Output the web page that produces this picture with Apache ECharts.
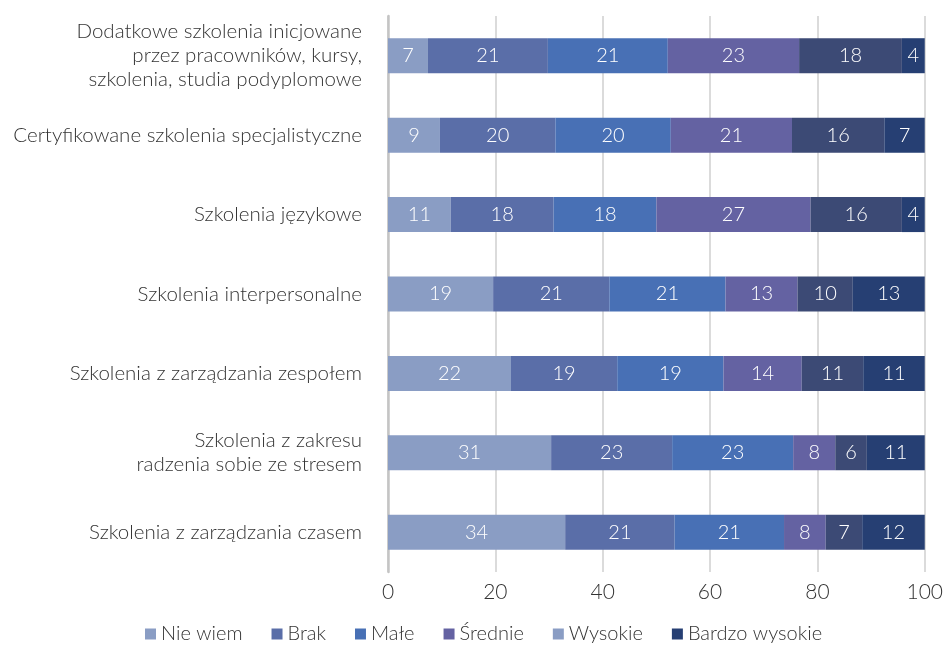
<!DOCTYPE html>
<html>
<head>
<meta charset="utf-8">
<script src="https://cdn.jsdelivr.net/npm/echarts@6/dist/echarts.min.js"></script>
<style>
  html, body { margin: 0; padding: 0; background: #fff; }
  #chart { width: 946px; height: 646px; }
</style>
</head>
<body>
<div id="chart"></div>
<script>
  // kategorie (od góry do dołu)
  const categories = [
    'Dodatkowe szkolenia inicjowane\nprzez pracowników, kursy,\nszkolenia, studia podyplomowe',
    'Certyfikowane szkolenia specjalistyczne',
    'Szkolenia językowe',
    'Szkolenia interpersonalne',
    'Szkolenia z zarządzania zespołem',
    'Szkolenia z zakresu\nradzenia sobie ze stresem',
    'Szkolenia z zarządzania czasem'
  ];
  const seriesNames = ['Nie wiem', 'Brak', 'Małe', 'Średnie', 'Wysokie', 'Bardzo wysokie'];
  const nieWiem = [7, 9, 11, 19, 22, 31, 34];
  const brak = [21, 20, 18, 21, 19, 23, 21];
  const male = [21, 20, 18, 21, 19, 23, 21];
  const srednie = [23, 21, 27, 13, 14, 8, 8];
  const wysokie = [18, 16, 16, 10, 11, 6, 7];
  const bardzoWysokie = [4, 7, 4, 13, 11, 11, 12];
  const xTicks = [0, 20, 40, 60, 80, 100];

  const colors = ['#8a9dc4', '#5a6ea8', '#4870b5', '#6462a2', '#3c4a75', '#263f73'];
  // w oryginalnej legendzie "Wysokie" ma jasny kwadracik
  const legendColors = ['#8a9dc4', '#5a6ea8', '#4870b5', '#6462a2', '#8a9dc4', '#263f73'];
  const raw = [nieWiem, brak, male, srednie, wysokie, bardzoWysokie];
  const font = 'Lato';

  // wykres 100% – szerokości normalizowane do sumy w wierszu
  const totals = categories.map((c, i) => raw.reduce((s, arr) => s + arr[i], 0));

  const series = seriesNames.map((name, k) => ({
    name: name,
    type: 'bar',
    stack: 'total',
    barWidth: 35,
    itemStyle: { color: colors[k] },
    label: {
      show: true,
      color: '#fff',
      fontSize: 20,
      fontWeight: 300,
      fontFamily: font,
      formatter: p => raw[k][p.dataIndex]
    },
    data: raw[k].map((v, i) => v / totals[i] * 100)
  }));

  const chart = echarts.init(document.getElementById('chart'));
  chart.setOption({
    animation: false,
    grid: { left: 388, right: 13, top: 16, bottom: 74 },
    legend: {
      bottom: 2,
      left: 145,
      padding: 0,
      icon: 'rect',
      itemWidth: 11,
      itemHeight: 11,
      itemGap: 29,
      textStyle: { fontSize: 20, fontWeight: 300, color: '#333', fontFamily: font },
      data: seriesNames.map((n, k) => ({ name: n, itemStyle: { color: legendColors[k] } }))
    },
    xAxis: {
      type: 'value',
      min: xTicks[0],
      max: xTicks[xTicks.length - 1],
      interval: 20,
      axisLine: { show: false },
      axisTick: { show: false },
      axisLabel: { fontSize: 21, fontWeight: 300, color: '#333', margin: 10, fontFamily: font },
      splitLine: { show: true, lineStyle: { color: '#cfcfcf', width: 1.5 } }
    },
    yAxis: {
      type: 'category',
      inverse: true,
      data: categories,
      axisLine: { show: true, lineStyle: { color: '#c4c4c4', width: 2.5 } },
      axisTick: { show: false },
      axisLabel: { fontSize: 20.5, fontWeight: 300, color: '#333', margin: 26, lineHeight: 24, fontFamily: font, align: 'right' }
    },
    series: series
  });
</script>
</body>
</html>
